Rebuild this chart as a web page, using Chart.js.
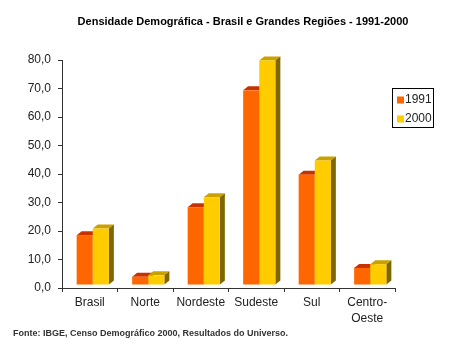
<!DOCTYPE html>
<html>
<head>
<meta charset="utf-8">
<script src="https://cdn.jsdelivr.net/npm/chart.js@4"></script>
<style>
  html, body { margin: 0; padding: 0; background: #fff; }
  #wrap { width: 474px; height: 350px; position: relative; }
</style>
</head>
<body>
<div id="wrap"><canvas id="chart"></canvas></div>
<script>
const regions = ['Brasil', 'Norte', 'Nordeste', 'Sudeste', 'Sul', ['Centro-', 'Oeste']];
const density1991 = [17.5, 2.9, 27.3, 68.3, 38.7, 6.0];
const density2000 = [19.8, 3.4, 30.8, 78.8, 43.7, 7.3];
const seriesNames = ['1991', '2000'];
const yTicks = [0, 10, 20, 30, 40, 50, 60, 70, 80];
const chartTitle = 'Densidade Demográfica - Brasil e Grandes Regiões - 1991-2000';
const sourceNote = 'Fonte: IBGE, Censo Demográfico 2000, Resultados do Universo.';

const FONT = '"Liberation Sans", Arial, sans-serif';
const faces = [
    { front: '#ff6600', top: '#c83200', side: '#8c2a00' },
    { front: '#ffcc00', top: '#c9a200', side: '#7f6600' }
];
// 3D depth of the bars and shift of the front face
const DX = 5, DY = 4, OX = 3, OY = -3;

const bars3d = {
    id: 'bars3d',
    beforeDatasetsDraw(chart) {
        const ctx = chart.ctx;
        const metas = chart.data.datasets.map((d, i) => chart.getDatasetMeta(i));
        ctx.save();
        for (let j = 0; j < regions.length; j++) {
            metas.forEach((meta, i) => {
                const bar = meta.data[j];
                const f = faces[i];
                const l = bar.x - bar.width / 2 + OX, r = bar.x + bar.width / 2 + OX;
                const t = bar.y + OY, b = bar.base + OY;
                ctx.fillStyle = f.top;
                ctx.beginPath();
                ctx.moveTo(l, t); ctx.lineTo(l + DX, t - DY); ctx.lineTo(r + DX, t - DY); ctx.lineTo(r, t);
                ctx.closePath(); ctx.fill();
                ctx.fillStyle = f.side;
                ctx.beginPath();
                ctx.moveTo(r, t); ctx.lineTo(r + DX, t - DY); ctx.lineTo(r + DX, b - DY); ctx.lineTo(r, b);
                ctx.closePath(); ctx.fill();
                ctx.fillStyle = f.front;
                ctx.fillRect(l, t, r - l, b - t);
            });
        }
        ctx.restore();
        return false;
    }
};

const texts = {
    id: 'texts',
    afterDraw(chart) {
        const ctx = chart.ctx;
        ctx.save();
        // title
        ctx.fillStyle = '#000';
        ctx.font = 'bold 11px ' + FONT;
        ctx.textAlign = 'center';
        ctx.textBaseline = 'middle';
        ctx.fillText(chartTitle, 243, 22);

        // legend
        ctx.strokeStyle = '#000';
        ctx.lineWidth = 1;
        ctx.strokeRect(392.5, 88.5, 41, 39);
        ctx.font = '12px ' + FONT;
        ctx.textAlign = 'left';
        chart.data.datasets.forEach((ds, i) => {
            const cy = 100 + i * 19;
            ctx.fillStyle = ds.backgroundColor;
            ctx.fillRect(397, cy - 3.5, 7, 7);
            ctx.fillStyle = '#222';
            ctx.fillText(ds.label, 405, cy);
        });

        // source
        ctx.fillStyle = '#333';
        ctx.font = 'bold 9px ' + FONT;
        ctx.fillText(sourceNote, 13, 334);
        ctx.restore();
    }
};

const tickFont = { family: FONT, size: 12, lineHeight: 1.3 };

new Chart(document.getElementById('chart'), {
    type: 'bar',
    data: {
        labels: regions,
        datasets: [
            { label: seriesNames[0], data: density1991, backgroundColor: faces[0].front },
            { label: seriesNames[1], data: density2000, backgroundColor: faces[1].front }
        ]
    },
    options: {
        responsive: true,
        maintainAspectRatio: false,
        animation: false,
        layout: { padding: { top: 60, left: 12, right: 79, bottom: 22 } },
        plugins: {
            legend: { display: false },
            title: { display: false },
            tooltip: { enabled: false }
        },
        datasets: { bar: { categoryPercentage: 0.58, barPercentage: 1 } },
        scales: {
            x: {
                afterFit: s => { s.height = 40; },
                border: { color: '#333' },
                grid: { offset: true, drawOnChartArea: false, tickLength: 4, color: '#333' },
                ticks: { padding: 3, color: '#222', font: tickFont, maxRotation: 0, autoSkip: false }
            },
            y: {
                min: 0,
                max: 80,
                afterBuildTicks: s => { s.ticks = yTicks.map(v => ({ value: v })); },
                afterFit: s => { s.width = 50; },
                border: { color: '#333' },
                grid: { drawOnChartArea: false, tickLength: 4, color: '#333' },
                ticks: {
                    padding: 7,
                    color: '#222',
                    font: tickFont,
                    callback: v => v.toFixed(1).replace('.', ',')
                }
            }
        }
    },
    plugins: [bars3d, texts]
});
</script>
</body>
</html>
